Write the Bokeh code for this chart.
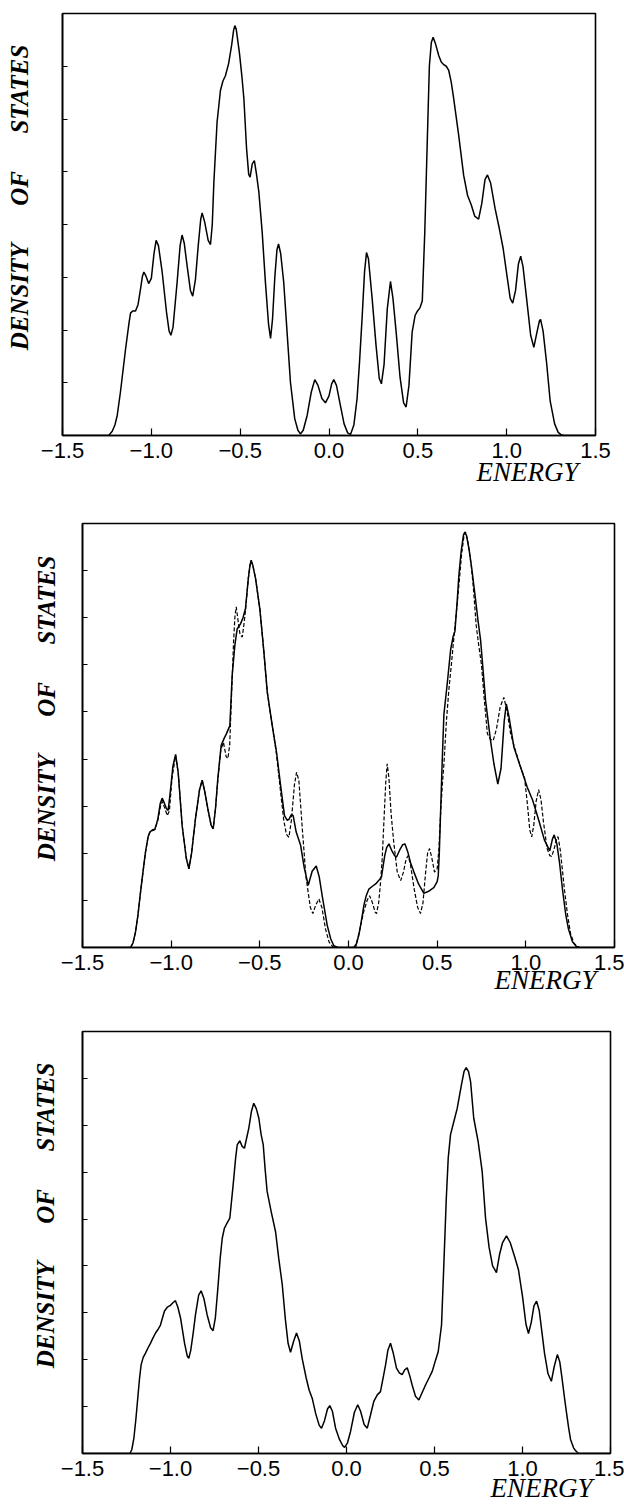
import math
from bokeh.plotting import figure
from bokeh.models import Range1d, FixedTicker, Title
from bokeh.embed import file_html
from bokeh.resources import INLINE

# ---------------- data ----------------
x_tick_values = [-1.5, -1.0, -0.5, 0.0, 0.5, 1.0, 1.5]
x_tick_labels = ["\u22121.5", "\u22121.0", "\u22120.5", "0.0", "0.5", "1.0", "1.5"]
y_label_text = "DENSITY\u2003\u2002OF\u2003\u2002STATES"
x_label_text = "ENERGY"

# panel A (top), solid curve: (energy, density of states)
curve_a = [
    (-1.50, 0), (-1.24, 0), (-1.22, 0.08), (-1.205, 0.2), (-1.192, 0.38), (-1.174, 0.82),
    (-1.145, 1.64), (-1.125, 2.15), (-1.117, 2.32), (-1.105, 2.36), (-1.089, 2.36),
    (-1.075, 2.48), (-1.062, 2.75), (-1.050, 3.02), (-1.042, 3.10), (-1.030, 3.02),
    (-1.015, 2.88), (-1.000, 2.98), (-0.985, 3.45), (-0.973, 3.70), (-0.960, 3.60),
    (-0.939, 3.10), (-0.915, 2.35), (-0.900, 1.98), (-0.890, 1.90), (-0.878, 2.05),
    (-0.855, 2.90), (-0.838, 3.60), (-0.827, 3.80), (-0.815, 3.65), (-0.798, 3.20),
    (-0.780, 2.75), (-0.767, 2.64), (-0.752, 2.95), (-0.736, 3.60), (-0.722, 4.10),
    (-0.714, 4.22), (-0.700, 4.05), (-0.680, 3.70), (-0.667, 3.62), (-0.657, 4.00),
    (-0.648, 4.80), (-0.630, 5.94), (-0.611, 6.54), (-0.597, 6.72), (-0.583, 6.82),
    (-0.565, 7.05), (-0.548, 7.40), (-0.537, 7.68), (-0.530, 7.77), (-0.522, 7.70),
    (-0.504, 7.25), (-0.490, 6.80), (-0.479, 6.38), (-0.464, 5.44), (-0.452, 4.95),
    (-0.444, 4.90), (-0.432, 5.15), (-0.420, 5.21), (-0.408, 4.95), (-0.395, 4.62),
    (-0.376, 3.85), (-0.358, 2.91), (-0.340, 2.10), (-0.329, 1.84), (-0.318, 2.20),
    (-0.305, 3.00), (-0.293, 3.52), (-0.284, 3.63), (-0.272, 3.45), (-0.255, 2.91),
    (-0.236, 1.96), (-0.217, 1.01), (-0.193, 0.32), (-0.175, 0.10), (-0.161, 0.03),
    (-0.145, 0.10), (-0.123, 0.38), (-0.100, 0.82), (-0.080, 1.06), (-0.062, 0.95),
    (-0.040, 0.70), (-0.020, 0.62), (0.000, 0.75), (0.015, 0.98), (0.027, 1.06),
    (0.042, 0.95), (0.064, 0.57), (0.085, 0.22), (0.105, 0.05), (0.121, 0.02),
    (0.140, 0.20), (0.158, 0.70), (0.172, 1.40), (0.187, 2.27), (0.200, 3.10),
    (0.211, 3.47), (0.222, 3.35), (0.243, 2.59), (0.265, 1.70), (0.283, 1.08),
    (0.295, 0.98), (0.310, 1.35), (0.328, 2.40), (0.346, 2.92), (0.360, 2.60),
    (0.378, 1.96), (0.400, 1.10), (0.420, 0.62), (0.434, 0.54), (0.450, 0.95),
    (0.468, 1.96), (0.485, 2.28), (0.496, 2.35), (0.512, 2.42), (0.525, 2.55),
    (0.539, 3.85), (0.552, 5.44), (0.565, 7.01), (0.576, 7.45), (0.586, 7.55),
    (0.600, 7.42), (0.618, 7.20), (0.632, 7.08), (0.646, 7.03), (0.660, 7.00),
    (0.674, 6.92), (0.688, 6.70), (0.702, 6.38), (0.730, 5.69), (0.758, 4.93),
    (0.780, 4.55), (0.800, 4.38), (0.820, 4.16), (0.842, 4.10), (0.860, 4.40),
    (0.878, 4.85), (0.892, 4.94), (0.910, 4.78), (0.935, 4.30), (0.960, 3.90),
    (0.980, 3.55), (1.005, 2.95), (1.020, 2.60), (1.034, 2.51), (1.050, 2.75),
    (1.066, 3.25), (1.079, 3.40), (1.092, 3.20), (1.113, 2.57), (1.135, 1.90),
    (1.153, 1.67), (1.170, 1.95), (1.185, 2.18), (1.191, 2.20), (1.205, 1.98),
    (1.225, 1.37), (1.245, 0.65), (1.270, 0.22), (1.290, 0.06), (1.304, 0.02),
    (1.320, 0), (1.50, 0),
]

# panel B (middle), solid curve
curve_b_solid = [
    (-1.50, 0), (-1.229, 0), (-1.215, 0.10), (-1.201, 0.33), (-1.187, 0.70), (-1.173, 1.17),
    (-1.159, 1.60), (-1.145, 2.02), (-1.130, 2.35), (-1.120, 2.45), (-1.105, 2.50),
    (-1.092, 2.51), (-1.083, 2.62), (-1.075, 2.73), (-1.062, 3.05), (-1.051, 3.17),
    (-1.040, 3.08), (-1.027, 2.95), (-1.017, 2.91), (-1.005, 3.30), (-0.990, 3.85),
    (-0.975, 4.10), (-0.960, 3.70), (-0.938, 2.59), (-0.915, 1.90), (-0.900, 1.67),
    (-0.885, 2.00), (-0.863, 2.73), (-0.840, 3.35), (-0.825, 3.55), (-0.810, 3.30),
    (-0.793, 2.94), (-0.775, 2.60), (-0.763, 2.52), (-0.750, 2.95), (-0.737, 3.58),
    (-0.718, 4.29), (-0.700, 4.45), (-0.688, 4.54), (-0.669, 4.71), (-0.656, 5.77),
    (-0.641, 6.41), (-0.628, 6.76), (-0.609, 6.87), (-0.595, 7.00), (-0.581, 7.19),
    (-0.565, 7.83), (-0.556, 8.10), (-0.549, 8.22), (-0.540, 8.12), (-0.524, 7.83),
    (-0.500, 7.19), (-0.477, 6.27), (-0.458, 5.42), (-0.430, 4.71), (-0.406, 4.15),
    (-0.383, 3.44), (-0.361, 2.80), (-0.345, 2.70), (-0.336, 2.72), (-0.322, 2.82),
    (-0.312, 2.80), (-0.295, 2.45), (-0.270, 2.17), (-0.250, 1.70), (-0.227, 1.32),
    (-0.205, 1.62), (-0.182, 1.73), (-0.165, 1.50), (-0.148, 1.09), (-0.120, 0.47),
    (-0.100, 0.18), (-0.083, 0.04), (-0.060, 0), (0.030, 0), (0.045, 0.08),
    (0.058, 0.26), (0.072, 0.55), (0.087, 0.90), (0.100, 1.10), (0.115, 1.24),
    (0.135, 1.30), (0.153, 1.35), (0.170, 1.42), (0.186, 1.50), (0.196, 1.75),
    (0.205, 1.96), (0.215, 2.12), (0.228, 2.20), (0.245, 2.05), (0.260, 1.95),
    (0.271, 1.92), (0.290, 2.08), (0.305, 2.18), (0.318, 2.20), (0.335, 2.02),
    (0.350, 1.80), (0.369, 1.60), (0.395, 1.35), (0.425, 1.15), (0.455, 1.20),
    (0.481, 1.27), (0.500, 1.40), (0.506, 1.52), (0.512, 2.00), (0.519, 2.84),
    (0.528, 3.90), (0.538, 4.95), (0.557, 5.61), (0.576, 6.32), (0.590, 6.60),
    (0.600, 6.71), (0.612, 7.30), (0.622, 7.88), (0.635, 8.40), (0.648, 8.75),
    (0.656, 8.82), (0.665, 8.75), (0.680, 8.45), (0.695, 8.05), (0.716, 7.40),
    (0.730, 6.95), (0.745, 6.52), (0.773, 5.24), (0.801, 4.39), (0.820, 3.90),
    (0.842, 3.47), (0.860, 3.80), (0.878, 4.80), (0.890, 5.17), (0.905, 4.90),
    (0.933, 4.25), (0.970, 3.83), (1.008, 3.40), (1.038, 3.13), (1.072, 2.71),
    (1.105, 2.28), (1.135, 2.05), (1.150, 2.30), (1.160, 2.39), (1.175, 2.20),
    (1.190, 1.80), (1.207, 1.22), (1.225, 0.70), (1.240, 0.40), (1.263, 0.12),
    (1.285, 0.02), (1.300, 0), (1.50, 0),
]

# panel B (middle), dashed curve
curve_b_dashed = [
    (-1.50, 0), (-1.229, 0), (-1.215, 0.10), (-1.201, 0.33), (-1.187, 0.70), (-1.173, 1.17),
    (-1.159, 1.60), (-1.145, 2.02), (-1.130, 2.35), (-1.120, 2.45), (-1.105, 2.48),
    (-1.092, 2.50), (-1.075, 2.70), (-1.060, 3.00), (-1.050, 3.10), (-1.038, 2.98),
    (-1.022, 2.80), (-1.010, 2.90), (-0.995, 3.60), (-0.975, 4.08), (-0.960, 3.70),
    (-0.938, 2.59), (-0.915, 1.90), (-0.900, 1.67), (-0.885, 2.00), (-0.863, 2.73),
    (-0.840, 3.35), (-0.825, 3.55), (-0.810, 3.30), (-0.793, 2.94), (-0.775, 2.60),
    (-0.763, 2.52), (-0.750, 2.95), (-0.737, 3.55), (-0.720, 4.20), (-0.705, 4.35),
    (-0.690, 4.05), (-0.680, 4.01), (-0.670, 4.30), (-0.660, 5.30), (-0.648, 6.50),
    (-0.640, 7.05), (-0.633, 7.23), (-0.625, 7.00), (-0.612, 6.65), (-0.599, 6.59),
    (-0.590, 6.85), (-0.581, 7.15), (-0.565, 7.83), (-0.556, 8.10), (-0.549, 8.20),
    (-0.540, 8.12), (-0.524, 7.83), (-0.500, 7.19), (-0.477, 6.27), (-0.458, 5.42),
    (-0.430, 4.71), (-0.406, 4.10), (-0.383, 3.30), (-0.365, 2.70), (-0.350, 2.40),
    (-0.336, 2.34), (-0.322, 2.70), (-0.305, 3.45), (-0.293, 3.72), (-0.280, 3.55),
    (-0.262, 2.60), (-0.240, 1.50), (-0.215, 0.85), (-0.201, 0.72), (-0.185, 0.90),
    (-0.167, 1.03), (-0.150, 0.85), (-0.130, 0.40), (-0.110, 0.12), (-0.090, 0.02),
    (-0.070, 0), (0.040, 0), (0.049, 0.15), (0.065, 0.40), (0.085, 0.75),
    (0.105, 1.00), (0.119, 1.10), (0.135, 0.95), (0.150, 0.75), (0.158, 0.72),
    (0.170, 0.95), (0.180, 1.35), (0.190, 1.88), (0.200, 2.70), (0.210, 3.50),
    (0.218, 3.90), (0.228, 3.60), (0.240, 2.85), (0.255, 2.24), (0.275, 1.60),
    (0.294, 1.42), (0.310, 1.60), (0.325, 1.88), (0.337, 1.95), (0.350, 1.75),
    (0.370, 1.25), (0.390, 0.85), (0.406, 0.72), (0.420, 0.95), (0.435, 1.60),
    (0.446, 2.00), (0.457, 2.10), (0.470, 1.90), (0.485, 1.60), (0.500, 1.67),
    (0.510, 2.10), (0.520, 2.90), (0.530, 3.50), (0.538, 3.89), (0.552, 4.80),
    (0.566, 5.47), (0.580, 6.00), (0.593, 6.53), (0.608, 7.10), (0.622, 7.67),
    (0.638, 8.35), (0.650, 8.70), (0.660, 8.82), (0.672, 8.65), (0.692, 8.11),
    (0.705, 7.60), (0.720, 6.84), (0.735, 6.40), (0.750, 6.00), (0.765, 5.30),
    (0.783, 4.54), (0.800, 4.42), (0.816, 4.39), (0.835, 4.65), (0.855, 5.10),
    (0.876, 5.31), (0.895, 5.00), (0.914, 4.54), (0.940, 4.20), (0.970, 3.83),
    (0.993, 3.60), (1.010, 3.00), (1.022, 2.50), (1.033, 2.35), (1.045, 2.60),
    (1.058, 3.10), (1.072, 3.35), (1.085, 3.15), (1.100, 2.65), (1.120, 2.10),
    (1.135, 1.95), (1.146, 1.93), (1.160, 2.10), (1.175, 2.33), (1.182, 2.35),
    (1.195, 2.05), (1.218, 1.22), (1.235, 0.70), (1.252, 0.30), (1.270, 0.10),
    (1.286, 0.03), (1.305, 0), (1.50, 0),
]

# panel C (bottom), solid curve
curve_c = [
    (-1.50, 0), (-1.231, 0), (-1.220, 0.08), (-1.208, 0.33), (-1.197, 0.72), (-1.186, 1.18),
    (-1.176, 1.60), (-1.167, 1.89), (-1.155, 2.05), (-1.142, 2.14), (-1.128, 2.25),
    (-1.114, 2.35), (-1.100, 2.46), (-1.085, 2.57), (-1.070, 2.65), (-1.057, 2.74),
    (-1.045, 2.90), (-1.034, 3.04), (-1.018, 3.12), (-1.000, 3.16), (-0.985, 3.22),
    (-0.972, 3.26), (-0.958, 3.12), (-0.943, 2.89), (-0.920, 2.35), (-0.905, 2.08),
    (-0.896, 2.03), (-0.885, 2.20), (-0.870, 2.60), (-0.858, 2.96), (-0.840, 3.38),
    (-0.826, 3.47), (-0.810, 3.30), (-0.792, 2.96), (-0.772, 2.68), (-0.758, 2.62),
    (-0.745, 2.90), (-0.731, 3.52), (-0.718, 4.15), (-0.706, 4.59), (-0.694, 4.80),
    (-0.682, 4.89), (-0.663, 5.02), (-0.644, 5.73), (-0.630, 6.30), (-0.621, 6.58),
    (-0.606, 6.67), (-0.593, 6.55), (-0.580, 6.51), (-0.566, 6.75), (-0.555, 6.94),
    (-0.540, 7.30), (-0.527, 7.47), (-0.512, 7.35), (-0.498, 7.15), (-0.485, 6.80),
    (-0.473, 6.58), (-0.462, 6.05), (-0.451, 5.59), (-0.428, 5.16), (-0.403, 4.73),
    (-0.385, 4.16), (-0.365, 3.60), (-0.347, 2.85), (-0.332, 2.35), (-0.318, 2.16),
    (-0.300, 2.40), (-0.284, 2.57), (-0.268, 2.40), (-0.252, 2.03), (-0.229, 1.61),
    (-0.212, 1.35), (-0.195, 1.18), (-0.175, 0.85), (-0.155, 0.60), (-0.142, 0.54),
    (-0.125, 0.70), (-0.108, 0.95), (-0.095, 1.02), (-0.080, 0.90), (-0.062, 0.54),
    (-0.040, 0.30), (-0.022, 0.17), (-0.011, 0.13), (0.005, 0.22), (0.023, 0.47),
    (0.045, 0.88), (0.064, 1.04), (0.080, 0.90), (0.100, 0.62), (0.118, 0.54),
    (0.135, 0.80), (0.155, 1.11), (0.175, 1.25), (0.193, 1.32), (0.210, 1.65),
    (0.222, 1.89), (0.235, 2.20), (0.250, 2.35), (0.265, 2.15), (0.284, 1.82),
    (0.300, 1.72), (0.316, 1.68), (0.330, 1.78), (0.345, 1.83), (0.360, 1.65),
    (0.373, 1.46), (0.392, 1.22), (0.411, 1.14), (0.430, 1.30), (0.449, 1.46),
    (0.470, 1.62), (0.487, 1.75), (0.505, 1.98), (0.521, 2.17), (0.540, 2.74),
    (0.553, 4.02), (0.567, 5.44), (0.578, 6.30), (0.591, 6.80), (0.610, 7.08),
    (0.629, 7.36), (0.653, 7.86), (0.668, 8.15), (0.680, 8.23), (0.693, 8.15),
    (0.705, 7.93), (0.723, 7.15), (0.748, 6.65), (0.771, 6.01), (0.790, 5.02),
    (0.810, 4.40), (0.830, 4.00), (0.852, 3.86), (0.870, 4.25), (0.886, 4.49),
    (0.909, 4.64), (0.930, 4.50), (0.955, 4.20), (0.977, 3.92), (1.000, 3.35),
    (1.020, 2.75), (1.034, 2.56), (1.050, 2.80), (1.065, 3.15), (1.080, 3.25),
    (1.095, 3.05), (1.110, 2.60), (1.125, 2.14), (1.145, 1.70), (1.164, 1.54),
    (1.180, 1.85), (1.198, 2.11), (1.212, 1.95), (1.223, 1.65), (1.240, 1.15),
    (1.250, 0.87), (1.262, 0.55), (1.273, 0.30), (1.290, 0.12), (1.300, 0.07),
    (1.318, 0), (1.50, 0),
]

y_max_a = 8
y_max_b = 9
y_max_c = 9

# leading em spaces shift the centred y label upward along the axis
Y_LABEL_LEAD = "\u2003\u2003\u2006"


def split(curve):
    return [e for e, _ in curve], [d for _, d in curve]


def energy_title(standoff, offset):
    kw = dict(text=x_label_text, align="right", offset=offset,
              text_font="Liberation Serif", text_font_style="italic",
              text_font_size="27px", text_color="black")
    try:
        return Title(standoff=standoff, **kw)
    except Exception:
        return Title(standoff=0, **kw)


def make_panel(ymax, fw, fh, left, right, top, bottom,
               ylab_standoff, xlab_standoff, xlab_offset):
    p = figure(frame_width=fw, frame_height=fh,
               x_range=Range1d(-1.5, 1.5), y_range=Range1d(0, ymax),
               output_backend="svg", toolbar_location=None,
               min_border_left=left, min_border_right=right,
               min_border_top=top, min_border_bottom=bottom,
               background_fill_color="white", border_fill_color="white")
    p.grid.visible = False
    p.outline_line_color = "black"
    p.outline_line_width = 1.6

    xa = p.xaxis[0]
    xa.ticker = FixedTicker(ticks=x_tick_values)
    xa.major_label_overrides = {v: s for v, s in zip(x_tick_values, x_tick_labels)}
    xa.major_tick_in = 7
    xa.major_tick_out = 0
    xa.minor_tick_line_color = None
    xa.axis_line_width = 1.6
    xa.major_tick_line_width = 1.2
    xa.major_label_standoff = 7
    xa.major_label_text_font = "Liberation Sans"
    xa.major_label_text_font_size = "22px"
    xa.major_label_text_color = "black"

    ya = p.yaxis[0]
    ya.ticker = FixedTicker(ticks=list(range(0, ymax + 1)))
    ya.major_label_overrides = {i: "" for i in range(0, ymax + 1)}
    ya.major_label_text_font_size = "1px"
    ya.major_label_standoff = 0
    ya.major_tick_in = 5
    ya.major_tick_out = 0
    ya.minor_tick_line_color = None
    ya.axis_line_width = 1.6
    ya.major_tick_line_width = 1.0
    ya.axis_label = Y_LABEL_LEAD + y_label_text
    ya.axis_label_standoff = ylab_standoff
    ya.axis_label_text_font = "Liberation Serif"
    ya.axis_label_text_font_style = "bold italic"
    ya.axis_label_text_font_size = "25px"
    ya.axis_label_text_color = "black"

    p.add_layout(energy_title(xlab_standoff, xlab_offset), "below")
    return p


# top panel (page rows 0-500)
pa = make_panel(y_max_a, 533, 422, 62, 29, 13, 65, 30, -12, 17)
ea, da = split(curve_a)
pa.line(ea, da, line_color="black", line_width=1.5)

# middle panel (page rows 500-1005)
pb = make_panel(y_max_b, 532, 424, 82, 10, 23, 58, 23, -20, 18)
ebd, dbd = split(curve_b_dashed)
ebs, dbs = split(curve_b_solid)
pb.line(ebd, dbd, line_color="black", line_width=1.2, line_dash="4 2")
pb.line(ebs, dbs, line_color="black", line_width=1.5)

# bottom panel (page rows 1005-1505)
pc = make_panel(y_max_c, 528, 422, 82, 14, 26, 52, 24, -16, 18)
ec, dc = split(curve_c)
pc.line(ec, dc, line_color="black", line_width=1.5)

open("out.html", "w").write(file_html([pa, pb, pc], INLINE))
